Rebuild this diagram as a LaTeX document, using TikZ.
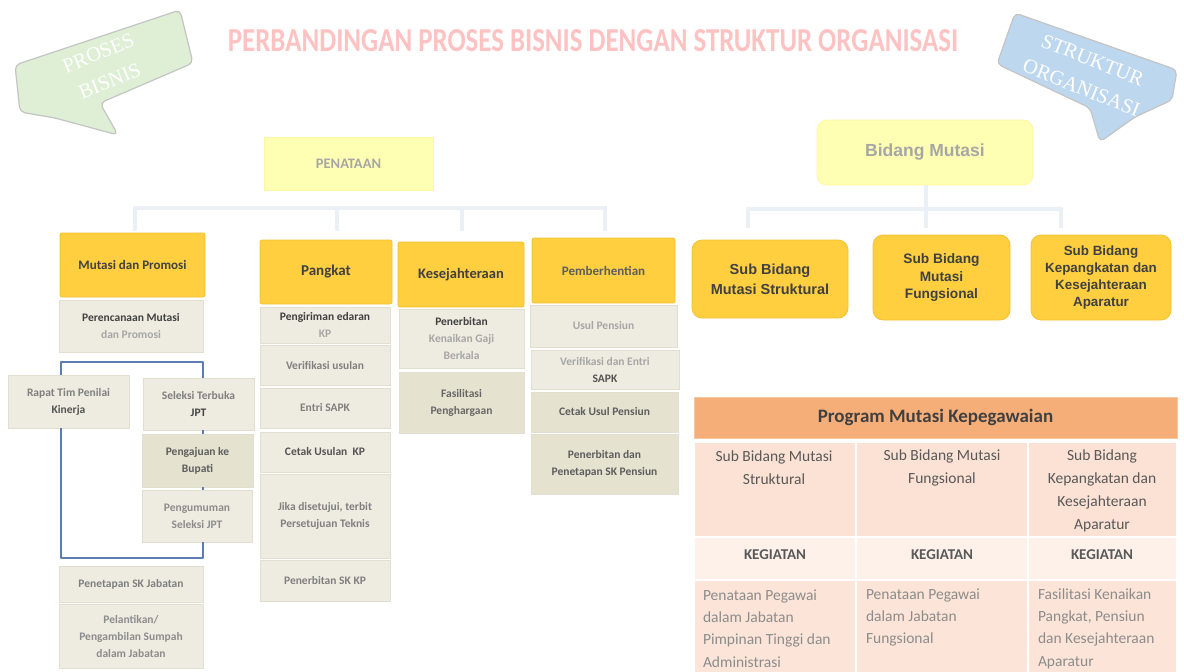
\documentclass[tikz,border=0pt]{standalone}
\usepackage{fontspec}
\usepackage{graphicx}
\setmainfont{Carlito}
\newfontfamily\arialf{Liberation Sans}
\newfontfamily\seriff{Liberation Serif}

\definecolor{gold}{HTML}{FFCF40}
\definecolor{golddk}{HTML}{F3C233}
\definecolor{graybg}{HTML}{EEECE1}
\definecolor{graydk}{HTML}{E6E2D0}
\definecolor{grayln}{HTML}{E2DFD0}
\definecolor{txtdark}{HTML}{404040}
\definecolor{txtmid}{HTML}{7F7F7F}
\definecolor{txtlight}{HTML}{A6A6A6}
\definecolor{buscol}{HTML}{EBF0F7}
\definecolor{loopcol}{HTML}{5B7DB5}
\definecolor{paleyel}{HTML}{FFFFB3}
\definecolor{paleyelln}{HTML}{FFF6A0}
\definecolor{greenbub}{HTML}{DFEFD5}
\definecolor{bluebub}{HTML}{BDD7EE}
\definecolor{bubln}{HTML}{C4C4C4}
\definecolor{titlepink}{HTML}{FFC2C2}
\definecolor{orghdr}{HTML}{F6AE78}
\definecolor{orghdrln}{HTML}{F9C7A2}
\definecolor{rowa}{HTML}{FBE2D5}
\definecolor{rowb}{HTML}{FDF1EA}
\definecolor{rowc}{HTML}{FCE5D8}
\definecolor{tbltxt}{HTML}{595959}
\definecolor{tbllight}{HTML}{8C8C8C}

\begin{document}
\begin{tikzpicture}[x=1pt,y=-1pt,
  every node/.style={inner sep=0pt, outer sep=0pt},
  hdrbox/.style={fill=gold, draw=golddk, line width=0.8pt, rounded corners=2pt, align=center, text=txtdark, font=\fontsize{13}{16}\selectfont\bfseries},
  graybox/.style={fill=graybg, draw=grayln, line width=1pt, align=center, text=txtmid, font=\fontsize{11.5}{17}\selectfont\bfseries},
  orgbox/.style={fill=gold, draw=golddk, line width=0.8pt, rounded corners=10pt, align=center, text=txtdark, font=\arialf\fontsize{13.7}{17.5}\selectfont\bfseries},
  bus/.style={draw=buscol, line width=4pt},
  loopln/.style={draw=loopcol, line width=2.5pt, line join=round},
  bubble/.style={line width=1.2pt, draw=bubln, rounded corners=5pt},
  bubtxt/.style={text=white, align=center, font=\seriff\fontsize{20.5}{30}\selectfont},
  cell/.style={draw=white, line width=1.5pt},
  tbltext/.style={text=tbltxt, font=\fontsize{15.5}{23}\selectfont},
  tblbody/.style={text=tbllight, align=left, font=\fontsize{15.5}{22.3}\selectfont}
]
\fill[white] (0,0) rectangle (1184,672);
\useasboundingbox (0,0) rectangle (1184,672);

% speech bubbles
\draw[bubble, fill=greenbub] (15,65) -- (180,10) -- (193,63) -- (100,103) -- (118,135) -- (55,118) -- (20,112) -- cycle;
\node[bubtxt, rotate=22] (pbtext) at (104,67) {PROSES\\BISNIS};
\draw[bubble, fill=bluebub] (1015,13) -- (1177,70) -- (1172,100) -- (1135,117) -- (1100,142) -- (1090,108) -- (997,64) -- cycle;
\node[bubtxt, rotate=-22] (sotext) at (1087,74) {STRUKTUR\\ORGANISASI};

% title
\node[text=titlepink, font=\bfseries] (title) at (593,41) {\resizebox{730pt}{22pt}{PERBANDINGAN PROSES BISNIS DENGAN STRUKTUR ORGANISASI}};

% ---------- left tree ----------
\node[fill=paleyel, draw=paleyelln, line width=0.8pt, minimum width=169, minimum height=53, text=txtlight, font=\fontsize{14.5}{17}\selectfont\bfseries] (penataan) at (348.5,163.5) {PENATAAN};

\node[hdrbox, minimum width=145, minimum height=64] (mutasi) at (132.5,265) {Mutasi dan Promosi};
\node[hdrbox, minimum width=132, minimum height=64, font=\fontsize{15}{17}\selectfont\bfseries] (pangkat) at (326,272) {Pangkat};
\node[hdrbox, minimum width=126, minimum height=65, font=\fontsize{14.5}{17}\selectfont\bfseries] (kesej) at (461,274.5) {Kesejahteraan};
\node[hdrbox, minimum width=143, minimum height=65, text=txtdark!85] (pemb) at (603.5,270.5) {Pemberhentian};

\coordinate (b1) at (135,208);
\coordinate (b2) at (337,208);
\coordinate (b3) at (462,208);
\coordinate (b4) at (605,208);
\coordinate (d1) at (135,231);
\coordinate (d2) at (337,231);
\coordinate (d3) at (462,231);
\coordinate (d4) at (605,231);
\draw[bus] (d1) -- (b1) -- (b4) -- (d4);
\draw[bus] (b2) -- (d2);
\draw[bus] (b3) -- (d3);

% Mutasi dan Promosi column
\node[graybox, minimum width=144, minimum height=52] (perenc) at (131,326) {\textcolor{txtdark}{Perencanaan Mutasi}\\\textcolor{txtlight}{dan Promosi}};
\node[graybox, minimum width=121, minimum height=53] (rapat) at (68.5,401.5) {Rapat Tim Penilai\\\textcolor{txtdark!90}{Kinerja}};
\node[graybox, minimum width=111, minimum height=52] (seleksi) at (198.5,404) {Seleksi Terbuka\\\textcolor{txtdark}{JPT}};
\node[graybox, fill=graydk, minimum width=111, minimum height=53, text=txtdark!85] (pengajuan) at (197.5,460.5) {Pengajuan ke\\Bupati};
\node[graybox, minimum width=110, minimum height=52, text=tbllight] (pengumuman) at (197,516) {Pengumuman\\Seleksi JPT};
\node[graybox, minimum width=144, minimum height=36] (penetapan) at (131,584) {Penetapan SK Jabatan};
\node[graybox, minimum width=144, minimum height=64, text=tbllight] (pelantikan) at (131,636) {Pelantikan/\\Pengambilan Sumpah\\dalam Jabatan};

\coordinate (lt1) at (61,362);
\coordinate (lt2) at (203,362);
\coordinate (lb1) at (61,558);
\coordinate (lb2) at (203,558);
\draw[loopln] (rapat.north -| lt1) -- (lt1) -- (lt2) -- (seleksi.north -| lt2);
\draw[loopln] (rapat.south -| lb1) -- (lb1) -- (lb2) -- (pengumuman.south -| lb2);
\draw[loopln, line width=1.5pt] (seleksi.south -| lt2) -- (pengajuan.north -| lt2);
\draw[loopln, line width=1.5pt] (pengajuan.south -| lt2) -- (pengumuman.north -| lt2);

% Pangkat column
\node[graybox, minimum width=130, minimum height=36] (kirim) at (325,325) {\textcolor{txtdark}{Pengiriman edaran}\\\textcolor{txtlight}{KP}};
\node[graybox, minimum width=130, minimum height=40] (verusul) at (325,365) {Verifikasi usulan};
\node[graybox, minimum width=130, minimum height=40] (entri) at (325,408) {Entri SAPK};
\node[graybox, minimum width=130, minimum height=40, text=txtdark!90] (cetakkp) at (325,452) {Cetak Usulan\ \ KP};
\node[graybox, minimum width=130, minimum height=84] (jika) at (325,516) {Jika disetujui, terbit\\Persetujuan Teknis};
\node[graybox, minimum width=130, minimum height=41] (skkp) at (325,580.5) {Penerbitan SK KP};

% Kesejahteraan column
\node[graybox, minimum width=125, minimum height=59] (kgb) at (461.5,338.5) {\textcolor{txtdark}{Penerbitan}\\\textcolor{txtlight}{Kenaikan Gaji}\\\textcolor{txtlight}{Berkala}};
\node[graybox, fill=graydk, minimum width=125, minimum height=61, text=txtdark!80] (fasil) at (461.5,402.5) {Fasilitasi\\Penghargaan};

% Pemberhentian column
\node[graybox, minimum width=147, minimum height=42, text=txtlight] (usul) at (603.5,326) {Usul Pensiun};
\node[graybox, minimum width=148, minimum height=39] (verentri) at (605,369.5) {\textcolor{txtlight}{Verifikasi dan Entri}\\\textcolor{txtdark!90}{SAPK}};
\node[graybox, fill=graydk, minimum width=147, minimum height=40, text=txtdark!85] (cetakpen) at (604.5,412) {Cetak Usul Pensiun};
\node[graybox, fill=graydk, minimum width=147, minimum height=60, text=txtdark!85] (skpen) at (604.5,464) {Penerbitan dan\\Penetapan SK Pensiun};

% ---------- right tree ----------
\node[fill=paleyel, draw=paleyelln, line width=0.8pt, rounded corners=10pt, minimum width=216, minimum height=65, text=txtlight, font=\arialf\fontsize{17.5}{20}\selectfont\bfseries] (bidang) at (925,152.5) {Bidang Mutasi};

\node[orgbox, minimum width=156, minimum height=78, font=\arialf\fontsize{14.5}{20}\selectfont\bfseries] (sub1) at (770,279) {Sub Bidang\\Mutasi Struktural};
\node[orgbox, minimum width=137, minimum height=85] (sub2) at (941.5,277.5) {Sub Bidang\\Mutasi\\Fungsional};
\node[orgbox, minimum width=140, minimum height=85, font=\arialf\fontsize{13.4}{17}\selectfont\bfseries] (sub3) at (1101,277.5) {Sub Bidang\\Kepangkatan dan\\Kesejahteraan\\Aparatur};

\coordinate (rb0) at (926,209);
\coordinate (rb1) at (748,209);
\coordinate (rb3) at (1061,209);
\coordinate (rd1) at (748,228);
\coordinate (rd2) at (926,228);
\coordinate (rd3) at (1061,228);
\draw[bus] (bidang.south -| rb0) -- (rd2);
\draw[bus] (rd1) -- (rb1) -- (rb3) -- (rd3);

% ---------- table ----------
\node[fill=orghdr, draw=orghdrln, line width=1pt, minimum width=483, minimum height=41, text=txtdark, font=\fontsize{19}{22}\selectfont\bfseries] (tblhdr) at (935.5,417.5) {Program Mutasi Kepegawaian};

\node[cell, fill=rowa, minimum width=162, minimum height=95] (c11) at (775,489.5) {};
\node[cell, fill=rowa, minimum width=172, minimum height=95] (c12) at (942,489.5) {};
\node[cell, fill=rowa, minimum width=149, minimum height=95] (c13) at (1102.5,489.5) {};
\node[cell, fill=rowb, minimum width=162, minimum height=43] (c21) at (775,558.5) {};
\node[cell, fill=rowb, minimum width=172, minimum height=43] (c22) at (942,558.5) {};
\node[cell, fill=rowb, minimum width=149, minimum height=43] (c23) at (1102.5,558.5) {};
\node[cell, fill=rowc, minimum width=162, minimum height=94] (c31) at (775,627) {};
\node[cell, fill=rowc, minimum width=172, minimum height=94] (c32) at (942,627) {};
\node[cell, fill=rowc, minimum width=149, minimum height=94] (c33) at (1102.5,627) {};

\node[tbltext, align=center] (t11) at (774,467.5) {Sub Bidang Mutasi\\Struktural};
\node[tbltext, align=center] (t12) at (942,467.5) {Sub Bidang Mutasi\\Fungsional};
\node[tbltext, align=center] (t13) at (1102,490.5) {Sub Bidang\\Kepangkatan dan\\Kesejahteraan\\Aparatur};

\node[tbltext, font=\fontsize{15}{18}\selectfont\bfseries] (k1) at (775,555) {KEGIATAN};
\node[tbltext, font=\fontsize{15}{18}\selectfont\bfseries] (k2) at (942,555) {KEGIATAN};
\node[tbltext, font=\fontsize{15}{18}\selectfont\bfseries] (k3) at (1102,555) {KEGIATAN};

\node[tblbody, anchor=west] (t31) at (703,628.5) {Penataan Pegawai\\dalam Jabatan\\Pimpinan Tinggi dan\\Administrasi};
\node[tblbody, anchor=west] (t32) at (866,617.5) {Penataan Pegawai\\dalam Jabatan\\Fungsional};
\node[tblbody, anchor=west] (t33) at (1038,628.5) {Fasilitasi Kenaikan\\Pangkat, Pensiun\\dan Kesejahteraan\\Aparatur};

\end{tikzpicture}
\end{document}
